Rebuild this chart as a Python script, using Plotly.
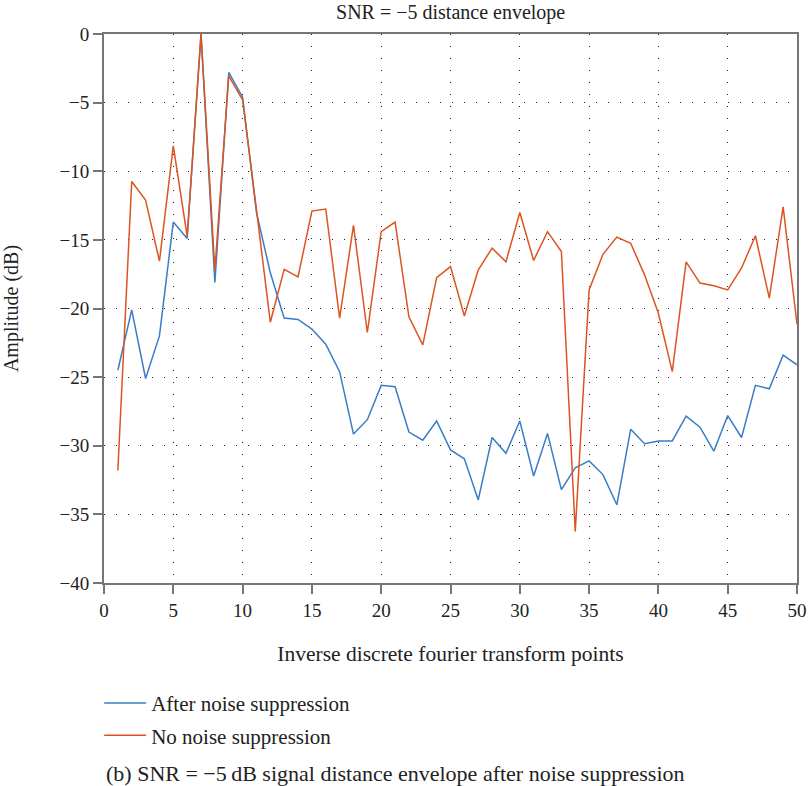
import plotly.graph_objects as go

# IDFT point index
points = list(range(1, 51))

# Distance envelope amplitude (dB) with noise suppression applied
after_suppression = [
    -24.5, -20.1, -25.1, -22.0, -13.7, -14.9, 0.0, -18.1, -2.8, -4.6,
    -13.0, -17.4, -20.7, -20.8, -21.5, -22.6, -24.6, -29.15, -28.1, -25.6,
    -25.7, -29.0, -29.6, -28.2, -30.3, -30.95, -33.95, -29.4, -30.55, -28.2,
    -32.2, -29.1, -33.2, -31.6, -31.1, -32.1, -34.3, -28.8, -29.85, -29.65,
    -29.65, -27.85, -28.65, -30.4, -27.8, -29.4, -25.6, -25.85, -23.4, -24.1,
]

# Distance envelope amplitude (dB) without noise suppression
no_suppression = [
    -31.8, -10.75, -12.1, -16.55, -8.15, -14.75, 0.0, -17.2, -3.05, -4.8,
    -12.8, -21.0, -17.15, -17.7, -12.9, -12.75, -20.7, -13.95, -21.75, -14.4,
    -13.7, -20.6, -22.65, -17.75, -16.95, -20.55, -17.2, -15.6, -16.6, -13.0,
    -16.5, -14.4, -15.85, -36.25, -18.65, -16.05, -14.8, -15.25, -17.55, -20.35,
    -24.6, -16.6, -18.15, -18.35, -18.65, -17.05, -14.7, -19.25, -12.6, -21.15,
]

x_ticks = list(range(0, 51, 5))
y_ticks = list(range(-40, 1, 5))

FONT = "Liberation Serif"
AXIS_GRAY = "#767676"
TEXT = "#222222"

fig = go.Figure()
fig.add_trace(go.Scatter(
    x=points, y=after_suppression, mode="lines",
    name="After noise suppression", legendgroup="a",
    line=dict(color="#3a7cc6", width=1.5),
))
fig.add_trace(go.Scatter(
    x=points, y=no_suppression, mode="lines",
    name="No noise suppression", legendgroup="b",
    line=dict(color="#dc5420", width=1.5),
))

axis_common = dict(
    showline=True, linecolor=AXIS_GRAY, linewidth=2, mirror=True,
    ticks="outside", ticklen=9, tickwidth=2, tickcolor=AXIS_GRAY,
    showgrid=True, gridcolor="#222222", gridwidth=1, griddash="1px,11px",
    zeroline=False, automargin=False,
    tickfont=dict(family=FONT, size=19, color=TEXT),
)

fig.update_xaxes(
    range=[0, 50], tickvals=x_ticks,
    title=dict(text="Inverse discrete fourier transform points",
               font=dict(family=FONT, size=21.5, color=TEXT), standoff=26),
    **axis_common,
)
fig.update_yaxes(
    range=[-40, 0], tickvals=y_ticks,
    title=dict(text="Amplitude (dB)",
               font=dict(family=FONT, size=20, color=TEXT), standoff=37),
    **axis_common,
)

fig.update_layout(
    width=809, height=786,
    margin=dict(l=104, r=12, t=34, b=203, autoexpand=False),
    paper_bgcolor="white", plot_bgcolor="white",
    font=dict(family=FONT, size=19, color=TEXT),
    title=dict(text="SNR = \u22125 distance envelope", x=0.557, xanchor="center",
               y=0.985, yanchor="middle",
               font=dict(family=FONT, size=20, color=TEXT)),
    showlegend=True,
    legend=dict(
        x=-0.007, xref="paper", y=-0.182, yref="paper",
        xanchor="left", yanchor="top",
        orientation="v", tracegroupgap=2, itemwidth=42,
        font=dict(family=FONT, size=21, color=TEXT),
        bgcolor="rgba(0,0,0,0)",
    ),
    annotations=[dict(
        text="(b) SNR = \u22125\u2009dB signal distance envelope after noise suppression",
        xref="paper", yref="paper", x=0.0, y=-0.347,
        xanchor="left", yanchor="middle", showarrow=False,
        font=dict(family=FONT, size=22, color=TEXT),
    )],
)

fig.write_html("out.html")
